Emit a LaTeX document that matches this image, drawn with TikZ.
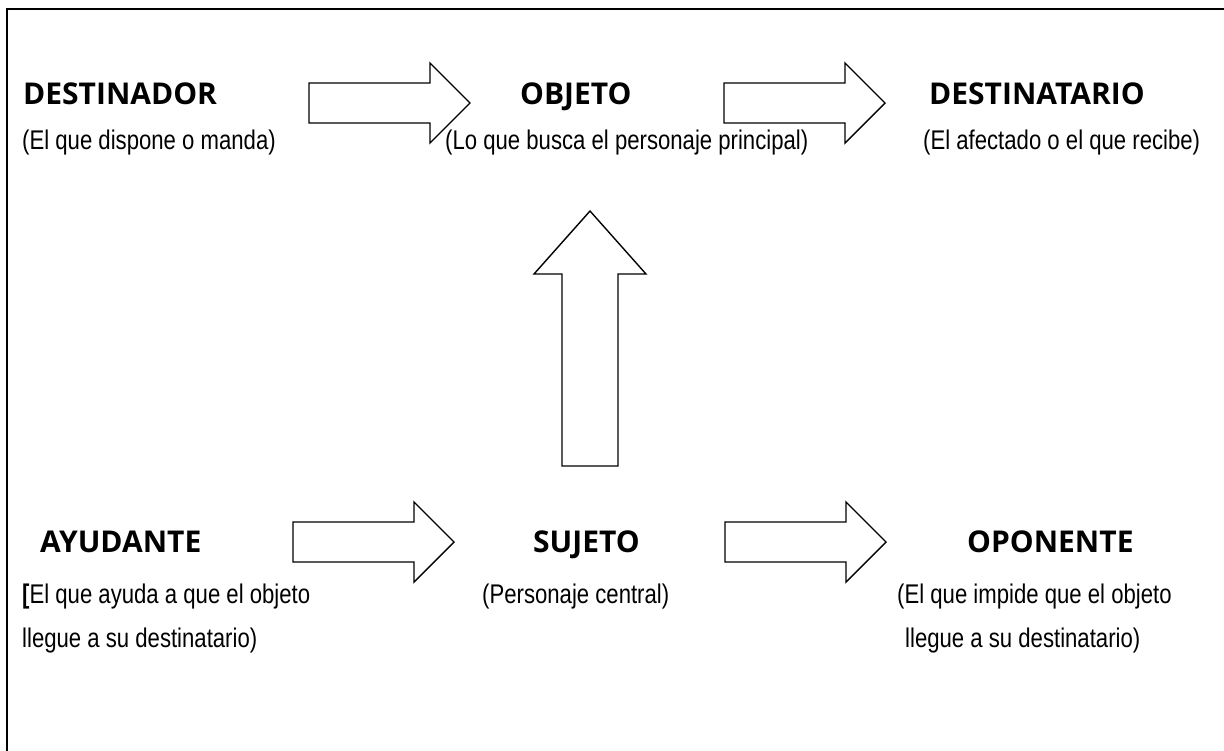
\documentclass[tikz,border=0pt]{standalone}
\usepackage{fontspec}
\setmainfont{Liberation Sans}
\newfontfamily\headfont{Open Sans}
\newfontfamily\narrowfont{Liberation Sans}[FakeStretch=0.82]
\tikzset{
  head/.style={font=\headfont\bfseries\fontsize{30}{36}\selectfont, inner sep=0pt, anchor=base west},
  sub/.style={font=\narrowfont\fontsize{27}{33}\selectfont, inner sep=0pt, anchor=base west},
  barrow/.style={draw=black, line width=1.4pt, fill=white, line join=miter},
  frameline/.style={draw=black, line width=2pt},
  pics/harrow/.style={code={\draw[barrow] (0,-20) -- (121,-20) -- (121,-40) -- (161,0) -- (121,40) -- (121,20) -- (0,20) -- cycle;}}
}
\begin{document}
\begin{tikzpicture}[x=1pt,y=-1pt]
\useasboundingbox (0,0) rectangle (1224,750);
\fill[white] (0,0) rectangle (1224,750);
\draw[frameline] (7,760) -- (7,9) -- (1235,9);

% top row
\node[head] (destinador) at (23,104) {DESTINADOR};
\node[head] (objeto) at (520,104) {OBJETO};
\node[head] (destinatario) at (929,104) {DESTINATARIO};
\node[sub] (destinadorsub) at (22,149) {(El que dispone o manda)};
\node[sub] (objetosub) at (445,149) {(Lo que busca el personaje principal)};
\node[sub] (destinatariosub) at (923,149) {(El afectado o el que recibe)};

% bottom row
\node[head] (ayudante) at (40,552) {AYUDANTE};
\node[head] (sujeto) at (533,552) {SUJETO};
\node[head] (oponente) at (967,552) {OPONENTE};
\node[sub] (ayudantesuba) at (22,603) {{\bfseries[}El que ayuda a que el objeto};
\node[sub] (ayudantesubb) at (22,647) {llegue a su destinatario)};
\node[sub] (sujetosub) at (482,603) {(Personaje central)};
\node[sub] (oponentesuba) at (897,603) {(El que impide que el objeto};
\node[sub] (oponentesubb) at (905,647) {llegue a su destinatario)};

% block arrows
\pic (arrowdo) at (309,103) {harrow};
\pic (arrowod) at (724,103) {harrow};
\pic (arrowas) at (293,542) {harrow};
\pic (arrowso) at (725,542) {harrow};
\draw[barrow] (562,466) -- (562,274) -- (534,274) -- (590,211) -- (646,274) -- (618,274) -- (618,466) -- cycle;
\end{tikzpicture}
\end{document}
